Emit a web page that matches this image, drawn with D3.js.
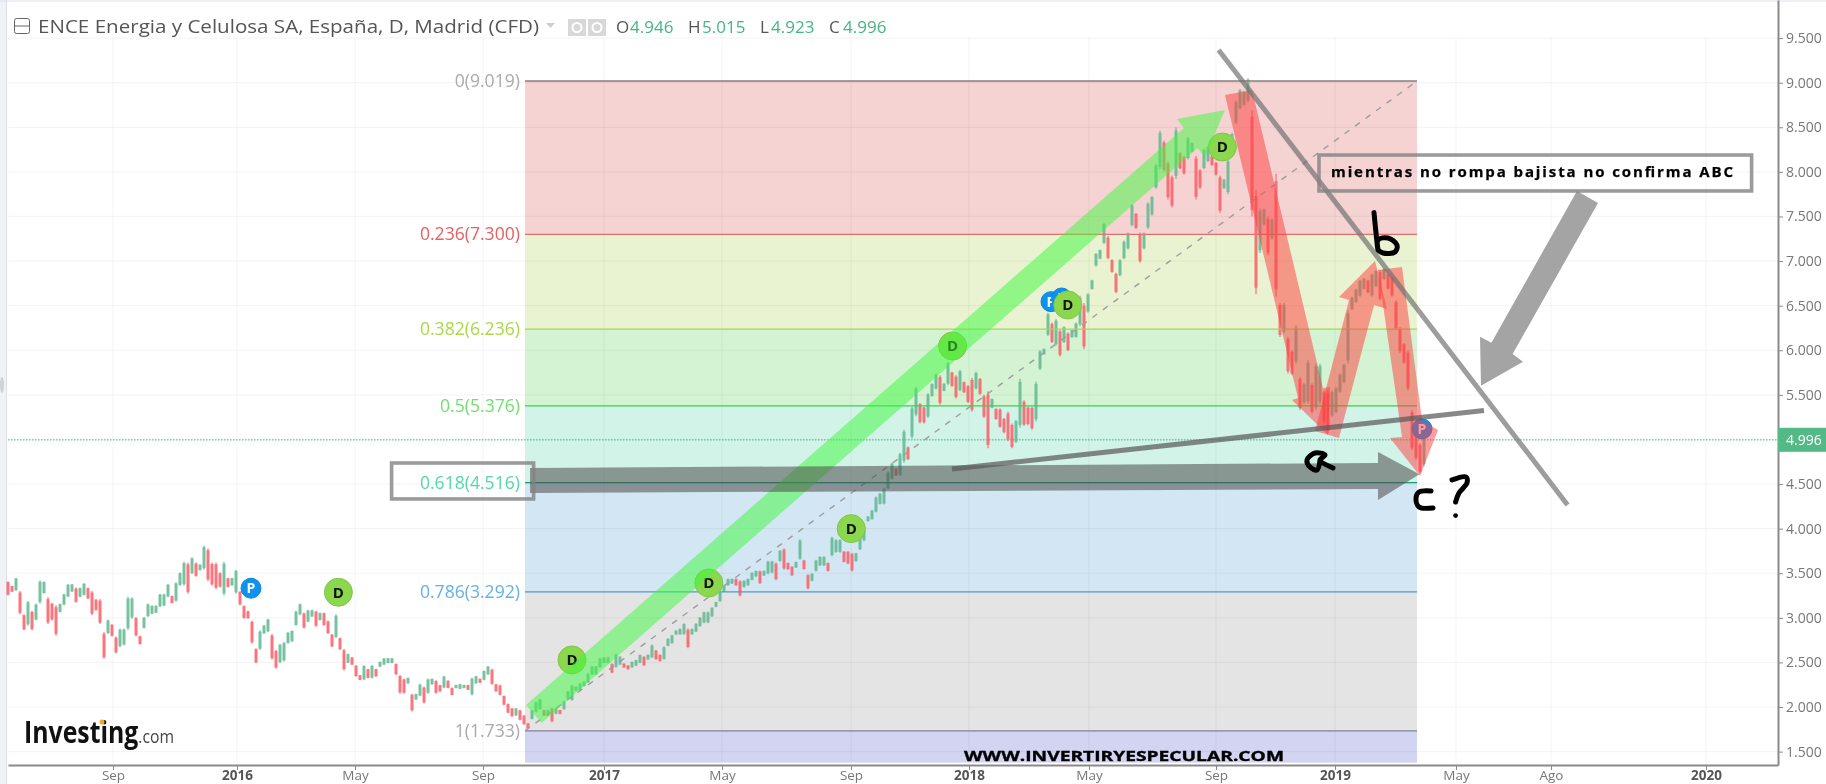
<!DOCTYPE html>
<html><head><meta charset="utf-8">
<style>
html,body{margin:0;padding:0;background:#fff;overflow:hidden}
svg{display:block;filter:blur(.35px)}
text{font-family:"Open Sans",sans-serif}
</style>
<script src="https://cdn.jsdelivr.net/npm/d3@7/dist/d3.min.js"></script>
</head><body>
<script>
// ---- candles: one entry per chart bar ----
const highs = [
3.41,3.36,3.45,3.30,3.04,3.19,3.08,3.16,3.42,3.41,3.23,3.17,3.14,3.16,3.27,3.38,3.38,3.34,3.34,3.39,3.34,3.30,3.21,3.21,2.84,2.98,2.93,2.79,2.88,2.88,3.24,3.23,3.01,2.80,3.01,3.16,3.14,3.14,3.27,3.27,3.38,3.25,3.40,3.51,3.63,3.62,3.68,3.62,3.60,3.81,3.78,3.62,3.62,3.51,3.63,3.45,3.45,3.54,3.30,3.14,3.08,2.97,2.66,2.86,2.92,2.99,2.82,
2.64,2.71,2.73,2.84,2.86,3.08,3.16,3.06,3.09,3.09,3.08,3.06,3.06,2.97,2.82,3.04,2.78,2.65,2.60,2.56,2.47,2.36,2.47,2.43,2.47,2.43,2.51,2.55,2.55,2.55,2.49,2.36,2.32,2.33,2.15,2.15,2.26,2.23,2.32,2.32,2.30,2.25,2.35,2.30,2.22,2.25,2.26,2.25,2.25,2.33,2.35,2.32,2.41,2.46,2.43,2.26,2.25,2.13,2.04,1.99,1.99,1.97,1.91,1.82,
1.97,2.06,2.09,1.97,1.97,1.99,1.99,1.97,2.07,2.18,2.25,2.23,2.27,2.29,2.38,2.46,2.46,2.55,2.56,2.56,2.49,2.60,2.57,2.49,2.47,2.51,2.53,2.59,2.57,2.59,2.70,2.64,2.59,2.68,2.77,2.81,2.86,2.88,2.94,2.88,2.88,2.94,3.01,3.07,3.07,3.12,3.18,3.29,3.37,3.44,3.44,3.44,3.42,3.42,3.44,3.51,3.53,3.53,3.53,3.64,3.64,
3.62,
3.76,3.78,3.62,3.58,3.63,3.88,3.65,3.49,3.50,3.65,3.69,3.69,3.62,3.91,3.88,3.88,3.75,3.75,3.73,3.73,3.91,4.03,4.14,4.21,4.36,4.40,4.46,4.64,4.74,4.68,4.85,5.11,4.92,5.37,5.59,5.41,5.37,5.52,5.63,5.74,5.72,5.63,5.87,5.76,5.72,5.78,5.65,5.61,5.69,5.76,5.69,5.50,5.54,5.46,5.35,5.35,5.24,5.31,5.18,5.22,5.68,5.44,5.37,5.37,5.65,6.00,6.02,
6.42,6.31,6.35,6.23,6.27,6.20,6.23,6.31,6.61,6.53,6.64,6.79,7.09,7.13,7.43,7.28,7.02,6.87,7.02,7.23,7.32,7.64,7.54,7.32,7.32,7.66,7.73,8.09,8.46,8.35,8.12,7.96,8.50,8.22,8.18,8.39,8.33,8.18,8.03,8.26,8.29,8.18,8.11,7.96,7.92,8.14,8.44,8.80,8.93,8.91,9.05,8.69,
7.80,7.59,7.59,7.50,7.48,7.98,6.53,6.53,6.15,6.00,6.28,5.70,5.63,5.89,5.63,5.85,5.85,5.55,5.55,5.55,5.59,5.74,5.85,6.45,6.60,6.69,6.79,6.81,6.79,6.86,6.90,6.90,6.92,6.86,6.83,6.56,6.26,6.08,6.00,5.33,5.18,4.96,5.07];
const lows = [
3.25,3.29,3.30,3.04,2.86,2.91,2.86,2.97,3.16,3.27,2.93,2.97,2.80,3.06,3.14,3.23,3.29,3.17,3.23,3.25,3.21,3.03,3.08,2.93,2.54,2.82,2.79,2.60,2.67,2.69,2.86,2.99,2.79,2.70,2.88,3.01,3.04,3.05,3.12,3.13,3.23,3.16,3.18,3.36,3.36,3.27,3.49,3.46,3.53,3.54,3.41,3.36,3.32,3.34,3.25,3.34,3.36,3.27,3.14,2.99,2.99,2.71,2.49,2.64,2.82,2.84,2.53,
2.43,2.49,2.51,2.71,2.73,2.91,3.03,2.88,2.95,3.01,2.90,2.97,2.91,2.82,2.67,2.77,2.64,2.41,2.49,2.47,2.34,2.30,2.30,2.32,2.32,2.34,2.45,2.47,2.49,2.49,2.36,2.15,2.15,2.26,1.95,2.08,2.12,2.04,2.15,2.25,2.15,2.17,2.21,2.21,2.13,2.21,2.20,2.21,2.19,2.13,2.26,2.27,2.30,2.36,2.25,2.17,2.13,2.02,1.93,1.89,1.90,1.85,1.80,1.76,
1.86,1.94,1.97,1.90,1.90,1.83,1.92,1.92,1.97,2.09,2.07,2.18,2.18,2.23,2.27,2.36,2.36,2.44,2.49,2.49,2.38,2.44,2.47,2.44,2.42,2.44,2.46,2.49,2.46,2.53,2.55,2.53,2.51,2.53,2.68,2.71,2.81,2.81,2.81,2.66,2.81,2.84,2.90,2.94,2.94,3.01,3.12,3.18,3.29,3.36,3.38,3.36,3.24,3.34,3.36,3.42,3.46,3.38,3.47,3.49,3.50,
3.42,
3.63,3.54,3.54,3.47,3.56,3.65,3.54,3.32,3.41,3.52,3.58,3.58,3.52,3.69,3.73,3.73,3.62,3.60,3.52,3.63,3.76,3.86,4.08,4.10,4.18,4.27,4.27,4.44,4.55,4.59,4.59,4.74,4.77,5.01,5.26,5.18,5.18,5.24,5.48,5.56,5.39,5.54,5.61,5.59,5.46,5.54,5.52,5.41,5.31,5.56,5.50,5.24,4.90,5.35,5.22,5.13,5.07,4.98,4.90,4.96,5.13,5.15,5.16,5.11,5.20,5.78,5.95,
6.16,6.08,6.05,5.93,6.08,5.99,6.14,6.14,6.27,6.01,6.42,6.68,6.94,7.02,7.19,7.02,6.87,6.64,6.83,7.02,7.13,7.39,7.36,6.98,7.13,7.36,7.51,7.81,8.03,8.00,7.69,7.60,7.92,8.03,7.97,8.14,8.22,7.69,7.81,8.03,8.11,8.07,7.96,7.54,7.81,7.75,8.18,8.54,8.70,8.74,8.78,7.50,
6.63,7.09,7.40,7.07,7.24,6.60,6.15,6.19,5.74,5.72,5.85,5.33,5.40,5.40,5.29,5.33,5.40,5.18,5.07,5.25,5.29,5.52,5.63,5.85,6.45,6.53,6.60,6.68,6.64,6.60,6.71,6.56,6.79,6.68,6.60,6.23,5.97,5.85,5.55,4.88,4.77,4.62,4.70];

// ---- axes ----
const yTicks = [9.5,9,8.5,8,7.5,7,6.5,6,5.5,5,4.5,4,3.5,3,2.5,2,1.5];
const xTickBars = [26.25,57.25,86.75,118.75,149,178.5,210.75,240.25,270.25,302,331.75,362,385.75,424.5];
const xTickLabels = ["Sep","2016","May","Sep","2017","May","Sep","2018","May","Sep","2019","May","Ago","2020"];

// ---- Fibonacci retracement ----
const fibRatios = ["0","0.236","0.382","0.5","0.618","0.786","1"];
const fibPrices = [9.019,7.300,6.236,5.376,4.516,3.292,1.733];
const fibLineColors = ["#8a7c7c","#e2716c","#a6d655","#34d44a","#1c9a72","#4a9ccb","#9b9bb0"];
const fibTextColors = ["#aaaaaa","#e86060","#a8da48","#72de72","#55d6ab","#68b0e0","#aaaaaa"];
const fibZoneColors = ["#f4d3d2","#e9f3d1","#d3f3d3","#d2f3e8","#d2e7f3","#e4e4e4","#d3d3f2"];
const fibBars = [129.25,352.25];
const fibFloor = 1.377;

// ---- header values ----
const lastPrice = 4.996;
const ohlcNames = ["O","H","L","C"];
const ohlcValues = ["4.946","5.015","4.923","4.996"];

// ---- event markers [bar, price] ----
const dividendMarks = [[82.6,3.287],[141,2.528],[175.2,3.391],[210.8,4.0],[236.15,6.048],[264.95,6.508],[303.6,8.279]];
const pivotMarks = [[60.75,3.332],[260.75,6.545],[263.4,6.586],[353.5,5.118]];

// ---- hand-drawn annotations [bar, price] ----
const greenArrow = [[129.5,2.023],[294,8.492],[292.25,8.593],[304.25,8.694],[299.25,8.167],[297.4,8.268],[133.4,1.822]];
const redArrows = [
 [[304.25,8.862],[311,8.918],[328.75,5.577],[330.5,5.588],[330,5.05],[321,5.443],[322.5,5.465]],
 [[326.75,5.095],[332.75,5.017],[341.5,6.508],[344.75,6.463],[341.75,7.001],[332.75,6.597],[335.25,6.564]],
 [[342.5,6.9],[348.5,6.934],[353.5,5.218],[357.5,5.106],[353,4.591],[345.5,5.017],[348.5,5.028]]];
const flatArrow = [[130.5,4.68],[342.5,4.736],[342.5,4.86],[352.85,4.61],[342.5,4.322],[342.5,4.445],[130.5,4.4]];
const calloutArrow = [[392.25,7.786],[397.5,7.651],[376.15,5.958],[378.75,5.872],[368.25,5.603],[368,6.152],[370.85,6.085]];
const downTrend = [[302.65,9.367],[389.9,4.266]];
const upTrend = [[236,4.669],[369,5.324]];
const letterB = [[341.5,7.543],[342.5,7.124],[342.5,7.237],[345,7.259],[347.25,7.18],[346.75,7.102],[343.75,7.091],[342.5,7.124]];
const letterA = [[331.25,4.68],[328,4.77],[329.25,4.826],[326.75,4.848],[324.75,4.77],[325.5,4.691],[327.25,4.658],[328,4.77]];
const letterC = [[355.75,4.422],[352.75,4.411],[352,4.344],[352.75,4.243],[356.25,4.232]];
const letterQ = [[361,4.546],[364.5,4.579],[364.75,4.512],[362.75,4.4],[361.9,4.299]];
const letterQDot = [361.9,4.146];
const labelBox = [[95.9,4.736],[131.4,4.333]];
const noteBox = [[327.75,8.189],[435.9,7.786]];
const noteText = "mientras no rompa bajista no confirma ABC";
const siteText = "WWW.INVERTIRYESPECULAR.COM";
const titleText = "ENCE Energia y Celulosa SA, España, D, Madrid (CFD)";

// ---- layout ----
const W = 1826, H = 784, left = 8, right = 1778, bottom = 765;
const svg = d3.select("body").append("svg").attr("width",W).attr("height",H);
const x = d3.scaleLinear().domain([0,442.5]).range([left,right]);
const y = d3.scaleLinear().domain([1.35,9.927]).range([bottom,0]);
const pt = d => [x(d[0]),y(d[1])];
const line = d3.line().x(d=>x(d[0])).y(d=>y(d[1]));
const poly = d => line(d)+"Z";

// frame
svg.append("rect").attr("width",6).attr("height",H).attr("fill","#f0f2f8");
svg.append("line").attr("x1",6.5).attr("x2",6.5).attr("y1",0).attr("y2",H).attr("stroke","#dcdfea");
svg.append("line").attr("x1",0).attr("x2",W).attr("y1",1).attr("y2",1).attr("stroke","#dcdfea");
svg.append("ellipse").attr("cx",2).attr("cy",385).attr("rx",2).attr("ry",8).attr("fill","#d0d2d8");

// fib zones
const zoneTops = fibPrices;
const zoneBottoms = fibPrices.slice(1).concat([fibFloor]);
svg.append("g").selectAll("rect").data(fibZoneColors).join("rect")
  .attr("x",x(fibBars[0])).attr("width",x(fibBars[1])-x(fibBars[0]))
  .attr("y",(d,i)=>y(zoneTops[i])).attr("height",(d,i)=>y(zoneBottoms[i])-y(zoneTops[i]))
  .attr("fill",d=>d);

// grid
const grid = svg.append("g").attr("stroke","rgba(0,0,0,.04)").attr("stroke-width",1.2);
grid.selectAll(".h").data(yTicks).join("line").attr("x1",left).attr("x2",right).attr("y1",d=>y(d)).attr("y2",d=>y(d));
grid.selectAll(".v").data(xTickBars).join("line").attr("x1",d=>x(d)).attr("x2",d=>x(d)).attr("y1",38).attr("y2",bottom);

// current price line
svg.append("line").attr("x1",left).attr("x2",right).attr("y1",y(lastPrice)).attr("y2",y(lastPrice))
  .attr("stroke","#62c49b").attr("stroke-width",1.2).attr("stroke-dasharray","1.5 1.5");

// candles
const bars = highs.map((h,i)=>({i,h,l:lows[i],m:(h+lows[i])/2}));
bars.forEach((b,i)=>{b.up = i>0 ? b.m>=bars[i-1].m : false; b.r=b.h-b.l;});
const UP="#62b892", DOWN="#fb5f68";
const cg = svg.append("g").attr("opacity",.86);
cg.selectAll(".w").data(bars).join("line")
  .attr("x1",d=>x(d.i)).attr("x2",d=>x(d.i)).attr("y1",d=>y(d.h)).attr("y2",d=>y(d.l))
  .attr("stroke",d=>d.up?UP:DOWN).attr("stroke-width",1.2);
cg.selectAll(".b").data(bars).join("rect")
  .attr("x",d=>x(d.i)-1.5).attr("width",3)
  .attr("y",d=>y(d.h-d.r*.06)).attr("height",d=>y(d.l+d.r*.06)-y(d.h-d.r*.06))
  .attr("fill",d=>d.up?UP:DOWN);

// fib trend diagonal
svg.append("line").attr("x1",x(fibBars[0])).attr("y1",y(fibPrices[6])).attr("x2",x(fibBars[1])).attr("y2",y(fibPrices[0]))
  .attr("stroke","#9d9d9d").attr("stroke-width",1.4).attr("stroke-dasharray","6 7");

// fib lines + labels
svg.append("g").selectAll("line").data(fibPrices).join("line")
  .attr("x1",x(fibBars[0])).attr("x2",x(fibBars[1])).attr("y1",d=>y(d)).attr("y2",d=>y(d))
  .attr("stroke",(d,i)=>fibLineColors[i]).attr("stroke-width",(d,i)=>i==6?1.8:1.3);
svg.append("g").selectAll("text").data(fibPrices).join("text")
  .attr("x",x(fibBars[0])-5).attr("y",d=>y(d)+6).attr("text-anchor","end")
  .attr("font-size",17.6).attr("fill",(d,i)=>fibTextColors[i])
  .text((d,i)=>fibRatios[i]+"("+d.toFixed(3)+")");

// markers
function marker(list,r,fill,txt,color,fs){
  const g = svg.append("g").selectAll("g").data(list).join("g").attr("transform",d=>`translate(${pt(d)})`);
  g.append("circle").attr("r",r).attr("fill",fill).attr("stroke",d3.color(fill).darker(.25)).attr("stroke-width",1);
  g.append("text").attr("text-anchor","middle").attr("y",fs*.36).attr("font-size",fs).attr("font-weight",700)
    .attr("font-family","Liberation Sans").attr("fill",color).text(txt);
}
marker(pivotMarks,10,"#0f92ee","P","#fff",14);
marker(dividendMarks,14,"#8bd84f","D","#111",15);

// annotations
svg.append("path").attr("d",poly(greenArrow)).attr("fill","rgba(60,250,60,.5)");
svg.append("g").selectAll("path").data(redArrows).join("path").attr("d",poly).attr("fill","rgba(255,60,60,.5)");
svg.append("path").attr("d",poly(flatArrow)).attr("fill","rgba(75,75,72,.55)");
svg.append("path").attr("d",poly(calloutArrow)).attr("fill","#a4a4a4");
svg.append("path").attr("d",line(downTrend)).attr("stroke","rgba(110,110,110,.68)").attr("stroke-width",5).attr("fill","none");
svg.append("path").attr("d",line(upTrend)).attr("stroke","rgba(90,90,90,.72)").attr("stroke-width",5).attr("fill","none");

const rectOf = b => ({x:x(b[0][0]),y:y(b[0][1]),w:x(b[1][0])-x(b[0][0]),h:y(b[1][1])-y(b[0][1])});
[labelBox,noteBox].forEach(b=>{const r=rectOf(b);
  svg.append("rect").attr("x",r.x).attr("y",r.y).attr("width",r.w).attr("height",r.h)
    .attr("fill","none").attr("stroke","rgba(130,130,130,.8)").attr("stroke-width",3.6);});
const nb = rectOf(noteBox);
svg.append("text").attr("x",nb.x+12).attr("y",nb.y+22).attr("font-family","DejaVu Sans").attr("font-weight",700)
  .attr("font-size",15).attr("textLength",402).attr("lengthAdjust","spacing").attr("fill","#000")
  .attr("stroke","#000").attr("stroke-width",.25).text(noteText);
svg.append("text").attr("x",964).attr("y",761).attr("font-family","DejaVu Sans").attr("font-weight",700)
  .attr("font-size",15).attr("textLength",320).attr("lengthAdjust","spacingAndGlyphs").attr("fill","#000")
  .attr("stroke","#000").attr("stroke-width",.35).text(siteText);

const hand = d3.line().x(d=>x(d[0])).y(d=>y(d[1])).curve(d3.curveCatmullRom.alpha(.5));
[letterB,letterA,letterC,letterQ].forEach(d=>svg.append("path").attr("d",hand(d)).attr("fill","none")
  .attr("stroke","#000").attr("stroke-width",5).attr("stroke-linecap","round").attr("stroke-linejoin","round"));
svg.append("circle").attr("cx",x(letterQDot[0])).attr("cy",y(letterQDot[1])).attr("r",2.4).attr("fill","#000");

// axes
const yAxis = svg.append("g").attr("transform",`translate(${right},0)`)
  .call(d3.axisRight(y).tickValues(yTicks).tickSize(5).tickSizeOuter(0).tickPadding(3).tickFormat(d3.format(".3f")));
const xAxis = svg.append("g").attr("transform",`translate(0,${bottom})`)
  .call(d3.axisBottom(x).tickValues(xTickBars).tickSize(5).tickSizeOuter(0).tickPadding(0).tickFormat((d,i)=>xTickLabels[i]));
[yAxis,xAxis].forEach(a=>{
  a.select(".domain").attr("stroke","#8a8a8a").attr("stroke-width",2);
  a.selectAll(".tick line").attr("stroke","#8a8a8a");
  a.selectAll("text").attr("font-family","Open Sans").attr("font-size",14).attr("fill","#777");
});
xAxis.selectAll("text").attr("font-size",13.5).filter((d,i)=>/^\d{4}$/.test(xTickLabels[i])).attr("font-weight",700).attr("fill","#555");

// last price tag
svg.append("rect").attr("x",right).attr("y",y(lastPrice)-12).attr("width",W-right).attr("height",24).attr("fill","#53b987");
svg.append("text").attr("x",right+8).attr("y",y(lastPrice)+5).attr("font-size",14).attr("fill","#fff").text(lastPrice.toFixed(3));

// header
svg.append("rect").attr("x",14.5).attr("y",18.5).attr("width",15).attr("height",15).attr("rx",2).attr("fill","#fff").attr("stroke","#666");
svg.append("line").attr("x1",14.5).attr("x2",29.5).attr("y1",26).attr("y2",26).attr("stroke","#666");
svg.append("text").attr("x",38).attr("y",33).attr("font-size",19).attr("fill","#555")
  .attr("textLength",501).attr("lengthAdjust","spacingAndGlyphs").text(titleText);
svg.append("path").attr("d","M546 23h9l-4.5 5z").attr("fill","#cccccc");
[[568,"eye"],[588,"gear"]].forEach(([px])=>{
  svg.append("rect").attr("x",px).attr("y",19).attr("width",18).attr("height",17).attr("fill","#d8d8d8");
  svg.append("circle").attr("cx",px+9).attr("cy",27.5).attr("r",4.5).attr("fill","none").attr("stroke","#fff").attr("stroke-width",2);
});
const ohlcNameX = [616,688,760,829];
const head = svg.append("g").attr("font-size",17);
ohlcNames.forEach((n,i)=>{
  head.append("text").attr("x",ohlcNameX[i]).attr("y",33).attr("fill","#555").text(n);
  head.append("text").attr("x",ohlcNameX[i]+(i==2?11:14)).attr("y",33).attr("fill","#45b584").text(ohlcValues[i]);
});

// logo
const logo = svg.append("text").attr("x",24).attr("y",743).attr("font-family","Liberation Sans")
  .attr("textLength",150).attr("lengthAdjust","spacingAndGlyphs");
logo.append("tspan").attr("font-weight",700).attr("font-size",30).attr("fill","#111").text("Investing");
logo.append("tspan").attr("font-size",19).attr("fill","#444").text(".com");
svg.append("circle").attr("cx",102).attr("cy",722).attr("r",2.5).attr("fill","#f5a623");
</script>
</body></html>
